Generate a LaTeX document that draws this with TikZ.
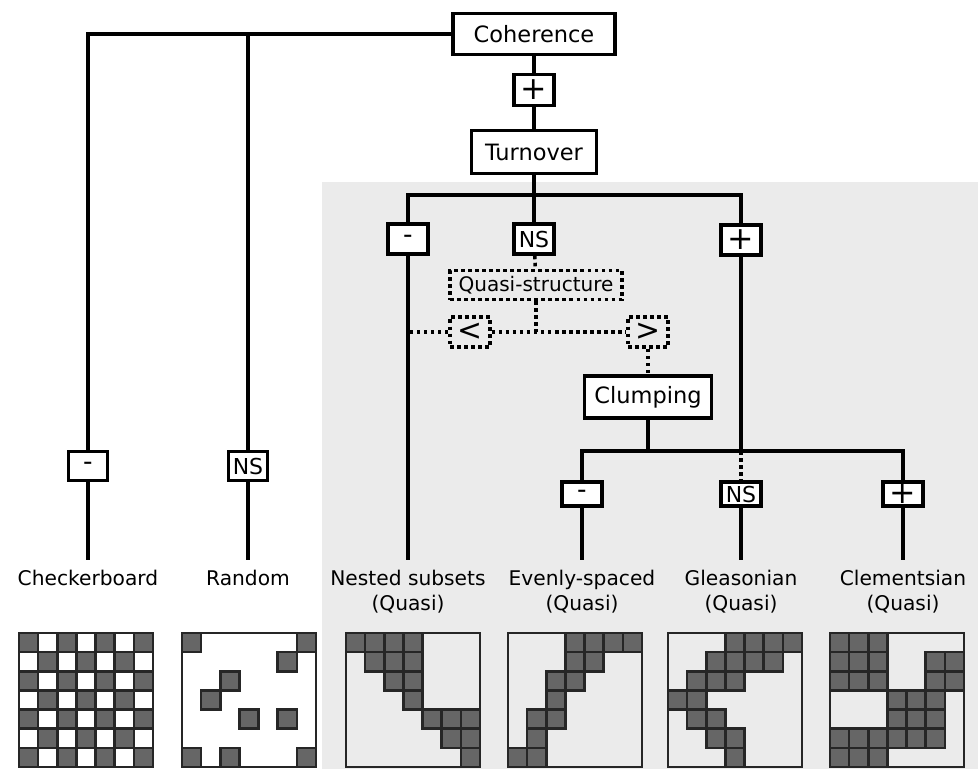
\documentclass[tikz,border=0pt]{standalone}
\usepackage{fontspec}
\setmainfont{DejaVu Sans}
\usetikzlibrary{calc}
\definecolor{panelgray}{HTML}{EBEBEB}
\definecolor{cellgray}{HTML}{666666}
\def\cellsz{19.14}
\def\cellgrid(#1,#2)#3{%
	\foreach \row/\col in {#3}
		\draw[cell] ({#1+\col*\cellsz},{#2+\row*\cellsz}) rectangle ++(\cellsz,\cellsz);
	\draw[frame] (#1,#2) rectangle ++(134,134);}
\def\signplus{{\fontsize{18}{18}\selectfont+}}
\def\signminus{{\fontsize{15}{15}\selectfont-}}

\begin{document}
\begin{tikzpicture}[x=0.02cm, y=-0.02cm,
	link/.style={line width=2pt},
	dots/.style={line width=2pt, dash pattern=on 2pt off 2pt},
	mainbox/.style={draw, line width=2.1pt, fill=white, inner sep=0pt, font=\fontsize{12.8}{15}\selectfont},
	signbox/.style={draw, line width=2pt, fill=white, inner sep=0pt, minimum width=0.8cm, minimum height=0.6cm, font=\fontsize{12.5}{12.5}\selectfont},
	lowsign/.style={signbox, minimum height=0.48cm},
	dotbox/.style={draw, dots, inner sep=0pt, minimum width=0.8cm, minimum height=0.6cm, font=\fontsize{17}{17}\selectfont},
	leaf/.style={anchor=north, inner xsep=0pt, inner ysep=0.2cm, align=center, font=\fontsize{11.5}{14.2}\selectfont},
	cell/.style={draw=black!85, line width=1.4pt, fill=cellgray},
	frame/.style={draw=black!85, line width=1.5pt}]
			%%%%% START %%%%%
			\useasboundingbox (0,0) rectangle (978,769);
			\fill[panelgray] (322,182) rectangle (978,769);
			
			% top of the tree
			\node[mainbox, minimum width=3.24cm, minimum height=0.82cm] (coh) at (534,34) {Coherence};
			\node[signbox, minimum height=0.62cm] (cohplus) at (534,90) {\signplus};
			\node[mainbox, minimum width=2.5cm, minimum height=0.86cm] (turn) at (534,152) {Turnover};
			
			\node[signbox] (negA) at (408,239) {\signminus};
			\node[signbox] (nsA) at (534,239) {NS};
			\node[signbox] (posA) at (741,240) {\signplus};
			
			\node[dotbox, minimum width=3.44cm, minimum height=0.58cm, font=\fontsize{11.4}{13}\selectfont] (quasi) at (536,285) {Quasi-structure};
			\node[dotbox] (less) at (470,332) {<};
			\node[dotbox] (more) at (648,332) {>};
			\node[mainbox, minimum width=2.54cm, minimum height=0.84cm] (clump) at (648,397) {Clumping};
			
			\node[lowsign] (negB) at (582,494) {\signminus};
			\node[lowsign] (nsB) at (741,494) {NS};
			\node[lowsign] (posB) at (903,494) {\signplus};
			
			\node[signbox, minimum width=0.78cm, minimum height=0.58cm] (negL) at (88,466) {\signminus};
			\node[signbox, minimum width=0.78cm, minimum height=0.58cm] (nsL) at (248,466) {NS};
			
			% leaves
			\node[leaf] (checker) at (88,560) {Checkerboard};
			\node[leaf] (random) at (248,560) {Random};
			\node[leaf] (nested) at (408,560) {Nested subsets\\(Quasi)};
			\node[leaf] (evenly) at (582,560) {Evenly-spaced\\(Quasi)};
			\node[leaf] (gleason) at (741,560) {Gleasonian\\(Quasi)};
			\node[leaf] (clement) at (903,560) {Clementsian\\(Quasi)};
			
			% connectors
			\coordinate (randtop) at (248,34);
			\coordinate (split) at (534,195);
			\coordinate (qsplit) at (536,332);
			\coordinate (csplit) at (648,451);
			
			\draw[link] (coh) -| (negL);
			\draw[link] (randtop) -- (nsL);
			\draw[link] (negL) -- (checker);
			\draw[link] (nsL) -- (random);
			\draw[link] (coh) -- (cohplus) -- (turn);
			\draw[link] (turn) -- (split);
			\draw[link] (negA) |- (split) -| (posA);
			\draw[link] (split) -- (nsA);
			\draw[link] (negA) -- (nested);
			
			\draw[dots] (nsA) -- (quasi);
			\draw[dots] (quasi) -- (qsplit);
			\draw[dots] (less) -- (more);
			\draw[dots] (less) -- (less -| negA);
			\draw[dots] (more) -- (clump);
			
			\draw[link] (clump) -- (csplit);
			\draw[link] (negB) |- (csplit) -| (posB);
			\draw[link] (posA) -- (posA |- csplit);
			\draw[dots] (posA |- csplit) -- (nsB);
			\draw[link] (negB) -- (evenly);
			\draw[link] (nsB) -- (gleason);
			\draw[link] (posB) -- (clement);
			
			% matrices
			\cellgrid(19,633){0/0,0/2,0/4,0/6,1/1,1/3,1/5,2/0,2/2,2/4,2/6,3/1,3/3,3/5,4/0,4/2,4/4,4/6,5/1,5/3,5/5,6/0,6/2,6/4,6/6}
			\cellgrid(182,633){0/0,0/6,1/5,2/2,3/1,4/3,4/5,6/0,6/2,6/6}
			\cellgrid(346,633){0/0,0/1,0/2,0/3,1/1,1/2,1/3,2/2,2/3,3/3,4/4,4/5,4/6,5/5,5/6,6/6}
			\cellgrid(508,633){0/3,0/4,0/5,0/6,1/3,1/4,2/2,2/3,3/2,4/1,4/2,5/1,6/0,6/1}
			\cellgrid(668,633){0/3,0/4,0/5,0/6,1/2,1/3,1/4,1/5,2/1,2/2,2/3,3/0,3/1,4/1,4/2,5/2,5/3,6/3}
			\cellgrid(830,633){0/0,0/1,0/2,1/0,1/1,1/2,1/5,1/6,2/0,2/1,2/2,2/5,2/6,3/3,3/4,3/5,4/3,4/4,4/5,5/0,5/1,5/2,5/3,5/4,5/5,6/0,6/1,6/2}
			
			%%%%% END %%%%%
\end{tikzpicture}
\end{document}
